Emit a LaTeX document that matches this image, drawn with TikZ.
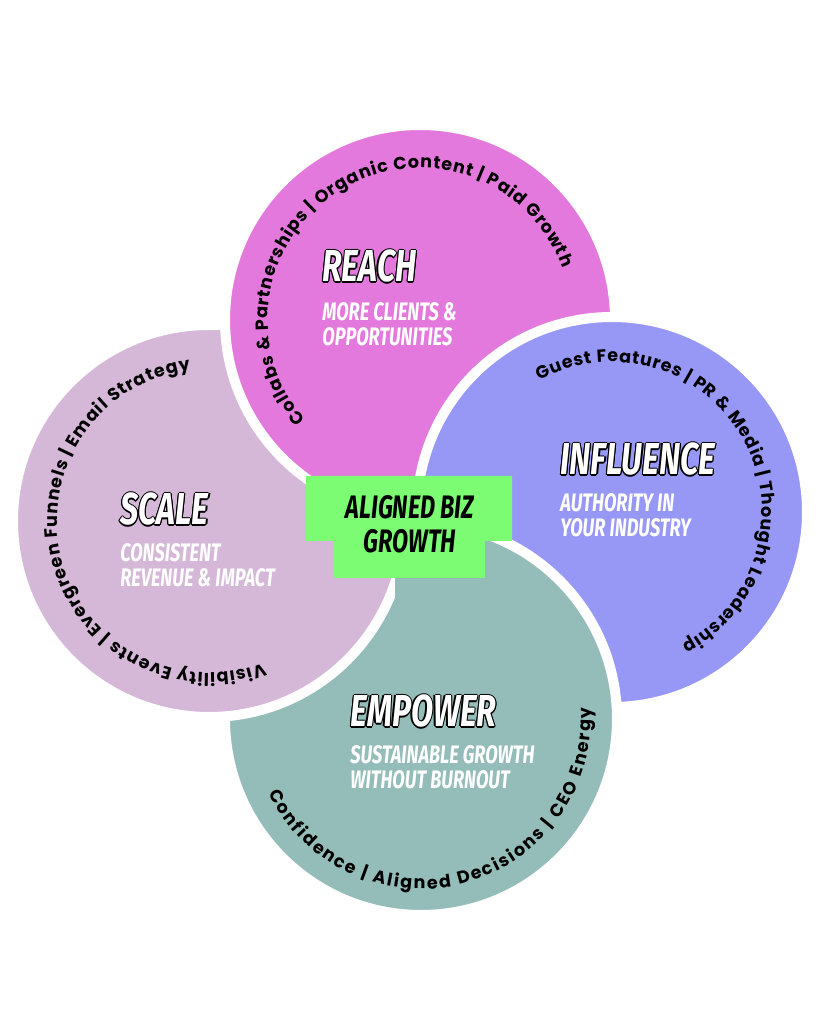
\documentclass[tikz,border=0pt]{standalone}
\usepackage{fontspec}
\usetikzlibrary{positioning, decorations.text}
\newfontfamily\headfont[FakeStretch=0.72]{Fira Sans}
\newfontfamily\arcfont{Poppins}
\definecolor{reachpink}{RGB}{227,121,220}
\definecolor{inflblue}{RGB}{151,152,245}
\definecolor{scalelilac}{RGB}{213,184,216}
\definecolor{empteal}{RGB}{148,189,185}
\definecolor{aligngreen}{RGB}{124,252,114}
% white title with black contour
\newcommand\outl[1]{%
  \rlap{\kern0.7pt{\color{black}#1}}\rlap{\kern-0.7pt{\color{black}#1}}%
  \rlap{\raisebox{0.7pt}{\color{black}#1}}\rlap{\raisebox{-0.7pt}{\color{black}#1}}%
  \rlap{\kern0.5pt\raisebox{0.5pt}{\color{black}#1}}\rlap{\kern-0.5pt\raisebox{-0.5pt}{\color{black}#1}}%
  \rlap{\kern0.5pt\raisebox{-0.5pt}{\color{black}#1}}\rlap{\kern-0.5pt\raisebox{0.5pt}{\color{black}#1}}%
  {\color{white}#1}}

\begin{document}
\begin{tikzpicture}[
    x=0.02cm, y=0.02cm,
    blob/.style={draw=white, line width=5.7pt, line join=round},
    title/.style={font=\headfont\bfseries\itshape\fontsize{25.5}{28}\selectfont, anchor=base west, inner sep=0pt},
    subtitle/.style={font=\headfont\bfseries\itshape\fontsize{14.4}{14.4}\selectfont, text=white, anchor=north west, align=left, inner sep=0pt},
    arclabel/.style={decorate, decoration={text along path, text format delimiters={[}{]}, text align={fit to path}}}
  ]
  \useasboundingbox (0,0) rectangle (819,1024);

  % centres of the four parts
  \coordinate (scale) at (209,503);
  \coordinate (reach) at (420,704);
  \coordinate (infl) at (612,512);
  \coordinate (emp) at (421,305);

  % shapes, each a circle with one square corner
  \fill[empteal, blob] (emp) ++(180:196) arc[start angle=180, end angle=450, radius=196] -- ++(-196,0) -- cycle;
  \fill[scalelilac, blob] (scale) ++(90:196) arc[start angle=90, end angle=360, radius=196] -- ++(0,196) -- cycle;
  \fill[reachpink, blob] (reach) ++(0:195) arc[start angle=0, end angle=270, radius=195] -- ++(195,0) -- cycle;
  \fill[inflblue, blob] (infl) ++(270:195) arc[start angle=270, end angle=540, radius=195] -- ++(0,-195) -- cycle;
  \begin{scope}
    \clip (395,0) -- (819,0) -- (819,512) -- (421,512) -- (421,446) -- (395,446) -- cycle;
    \fill[empteal, blob] (emp) ++(180:196) arc[start angle=180, end angle=450, radius=196] -- ++(-196,0) -- cycle;
  \end{scope}

  % texts round the rims
  \path[arclabel, decoration={text={[\arcfont\bfseries\fontsize{10}{12}\selectfont]Collabs {\&} Partnerships | Organic Content | Paid Growth}}]
    (reach) ++(221:152) arc[start angle=221, end angle=20, radius=152];
  \path[arclabel, decoration={text={[\arcfont\bfseries\fontsize{10}{12}\selectfont]Visibility Events | Evergreen Funnels | Email Strategy}}]
    (scale) ++(-69:152) arc[start angle=-69, end angle=-263, radius=152];
  \path[arclabel, decoration={text={[\arcfont\bfseries\fontsize{10}{12}\selectfont]Guest Features | PR {\&} Media | Thought Leadership}}]
    (infl) ++(119:150) arc[start angle=119, end angle=-62, radius=150];
  \path[arclabel, decoration={text={[\arcfont\bfseries\fontsize{10}{12}\selectfont]Confidence | Aligned Decisions | CEO Energy}}]
    (emp) ++(206:170) arc[start angle=206, end angle=364, radius=170];

  % titles
  \node[title] (reachT) at (322,742) {\outl{REACH}};
  \node[subtitle] (reachS) at (322,722) {MORE CLIENTS \&\\OPPORTUNITIES};
  \node[title] (scaleT) at (120,499) {\outl{SCALE}};
  \node[subtitle] (scaleS) at (120,481) {CONSISTENT\\REVENUE \& IMPACT};
  \node[title] (inflT) at (560,549) {\outl{INFLUENCE}};
  \node[subtitle] (inflS) at (560,531) {AUTHORITY IN\\YOUR INDUSTRY};
  \node[title] (empT) at (350,297) {\outl{EMPOWER}};
  \node[subtitle] (empS) at (350,279) {SUSTAINABLE GROWTH\\WITHOUT BURNOUT};

  % centre badge
  \fill[aligngreen] (306,548) -- (512,548) -- (512,483) -- (485,483) -- (485,446)
    -- (334,446) -- (334,483) -- (306,483) -- cycle;
  \node[font=\headfont\bfseries\itshape\fontsize{18.5}{19.5}\selectfont, align=center, inner sep=0pt] (center) at (410,500) {ALIGNED BIZ\\GROWTH};
\end{tikzpicture}
\end{document}
